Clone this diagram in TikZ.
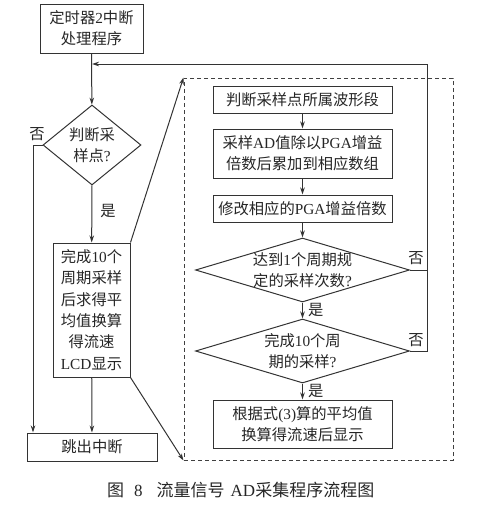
\documentclass[tikz,border=0pt]{standalone}
\usepackage{fontspec}
\setmainfont{Liberation Serif}
\newfontfamily\cjk{Noto Sans CJK SC}
\newfontfamily\latn{Liberation Serif}
\usetikzlibrary{shapes.geometric,arrows.meta}
\begin{document}
\begin{tikzpicture}[x=1pt,y=-1pt,
  every node/.style={font=\cjk\fontsize{15.3}{21.3}\selectfont, text=black!85},
  box/.style={draw=black!80, line width=1pt, rectangle, inner sep=0pt, align=center},
  dia/.style={draw=black!80, line width=1pt, diamond, inner sep=0pt},
  txt/.style={align=center, inner sep=0pt},
  ln/.style={draw=black!80, line width=1pt},
  arr/.style={ln, -{Stealth[length=7pt,width=4.5pt]}},
  lab/.style={inner sep=0pt}]
\useasboundingbox (0,0) rectangle (479,509);
% left column
\node[box, minimum width=103, minimum height=49] (top) at (91.5,28.5) {定时器{\latn 2}中断\\处理程序};
\node[dia, minimum width=98, minimum height=80] (d1) at (92,145) {};
\node[txt] at (d1) {判断采\\样点{\latn ?}};
\node[box, minimum width=77, minimum height=134] (calc) at (91.5,310) {完成{\latn 10}个\\周期采样\\后求得平\\均值换算\\得流速\\{\latn LCD}显示};
\node[box, minimum width=130, minimum height=28] (exit) at (92,447) {跳出中断};
\coordinate (j1) at (92,64);
\coordinate (lft) at (33,145);
\coordinate (rgt) at (427,352);
% dashed group
\node[draw=black!75, line width=1pt, dash pattern=on 4pt off 3pt, rectangle, minimum width=269, minimum height=382, inner sep=0pt] (grp) at (318.5,269) {};
% inner column
\node[box, minimum width=179, minimum height=27] (a) at (302.5,99.5) {判断采样点所属波形段};
\node[box, minimum width=179, minimum height=49] (b) at (302.5,153.5) {采样{\latn AD}值除以{\latn PGA}增益\\倍数后累加到相应数组};
\node[box, minimum width=179, minimum height=27] (c) at (302.5,208.5) {修改相应的{\latn PGA}增益倍数};
\node[dia, minimum width=214, minimum height=64] (d2) at (302.5,270) {};
\node[txt] at (d2) {达到{\latn 1}个周期规\\定的采样次数{\latn ?}};
\node[dia, minimum width=214, minimum height=64] (d3) at (302.5,351) {};
\node[txt] at (d3) {完成{\latn 10}个周\\期的采样{\latn ?}};
\node[box, minimum width=179, minimum height=48] (d) at (302.5,424) {根据式{\latn (3)}算的平均值\\换算得流速后显示};
% connectors left
\draw[arr] (top) -- (d1);
\draw[arr] (d1) -- node[lab, right=8pt, pos=0.45] {是} (calc);
\draw[arr] (d1.west) -- (lft) -- (lft |- exit.north);
\node[lab] at (37,134) {否};
\draw[arr] (calc) -- (exit);
\draw[arr] (calc.north east) -- (grp.north west);
\draw[arr] (calc.south east) -- (grp.south west);
% connectors inner
\draw[arr] (a) -- (b);
\draw[arr] (b) -- (c);
\draw[arr] (c) -- (d2);
\draw[arr] (d2) -- node[lab, right=5pt] {是} (d3);
\draw[arr] (d3) -- node[lab, right=5pt] {是} (d);
\draw[ln] (d2.east) -- (rgt |- d2.east);
\draw[arr] (d3.east) -- (rgt |- d3.east) -- (rgt |- j1) -- (j1);
\node[lab] at (416,258) {否};
\node[lab] at (416,340) {否};
% caption
\node[font=\cjk\fontsize{17}{20}\selectfont, inner sep=0pt, anchor=west] (cap) at (107,490) {图\hspace{10pt}{\latn 8}\hspace{14pt}流量信号\hspace{6pt}{\latn AD}采集程序流程图};
\end{tikzpicture}
\end{document}
